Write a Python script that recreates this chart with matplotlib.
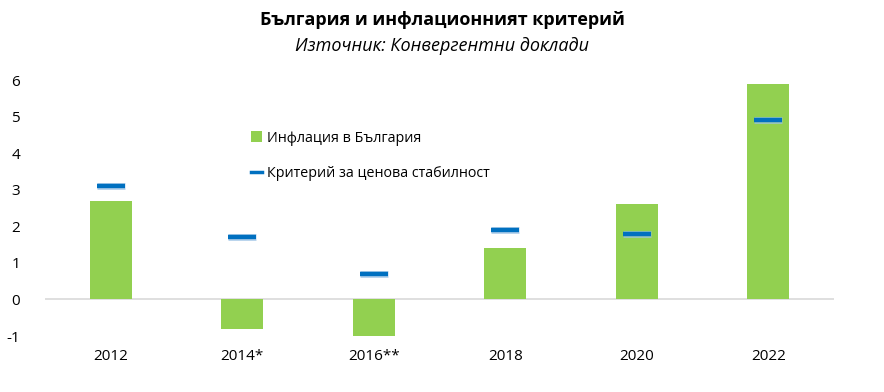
import matplotlib
matplotlib.use("Agg")
import matplotlib.pyplot as plt
import matplotlib.patheffects as pe
from matplotlib.lines import Line2D
from matplotlib.patches import Patch

categories = ["2012", "2014*", "2016**", "2018", "2020", "2022"]
inflation = [2.7, -0.8, -1.0, 1.4, 2.6, 5.9]
criterion = [3.1, 1.7, 0.7, 1.9, 1.8, 4.9]
yticks = [-1, 0, 1, 2, 3, 4, 5, 6]

FONT = ["Open Sans", "DejaVu Sans"]
plt.rcParams["font.family"] = FONT

fig = plt.figure(figsize=(8.84, 3.92), dpi=100)
ax = fig.add_axes([45/884, 1-336/392, (834-45)/884, (336-80)/392])

x = list(range(len(categories)))
ax.bar(x, inflation, width=0.32, color="#92D050", zorder=2)
ax.scatter(x, criterion, marker="_", s=420, linewidths=3.2, color="#0070C0", zorder=3,
           path_effects=[pe.Stroke(linewidth=5, foreground="#9DC3E6", alpha=0.7), pe.Normal()])

ax.set_xlim(-0.5, 5.5)
ax.set_ylim(-1, 6)
ax.set_yticks(yticks)
ax.set_yticklabels([str(v) for v in yticks], fontsize=11)
ax.set_xticks([])
for s in ax.spines.values():
    s.set_visible(False)
ax.axhline(0, color="#D9D9D9", linewidth=1.2, zorder=1)
ax.tick_params(axis="y", length=0, pad=18)

for xi, lab in zip(x, categories):
    ax.text(xi, -1.55, lab, ha="center", va="center", fontsize=11)

handles = [Patch(facecolor="#92D050", label="Инфлация в България"),
           Line2D([0], [0], color="#0070C0", linewidth=2.5, label="Критерий за ценова стабилност")]
leg = fig.legend(handles=handles, loc="upper left", bbox_to_anchor=(238/884, 1-118/392),
                 frameon=False, fontsize=10.3, handlelength=0.8, handleheight=0.8,
                 labelspacing=1.4, handletextpad=0.35)

fig.text(0.5, 1-20/392, "България и инфлационният критерий", ha="center", va="center",
         fontsize=13, fontweight="bold")
fig.text(0.5, 1-46/392, "Източник: Конвергентни доклади", ha="center", va="center",
         fontsize=13, style="italic")

fig.savefig("out.png", dpi=100)
